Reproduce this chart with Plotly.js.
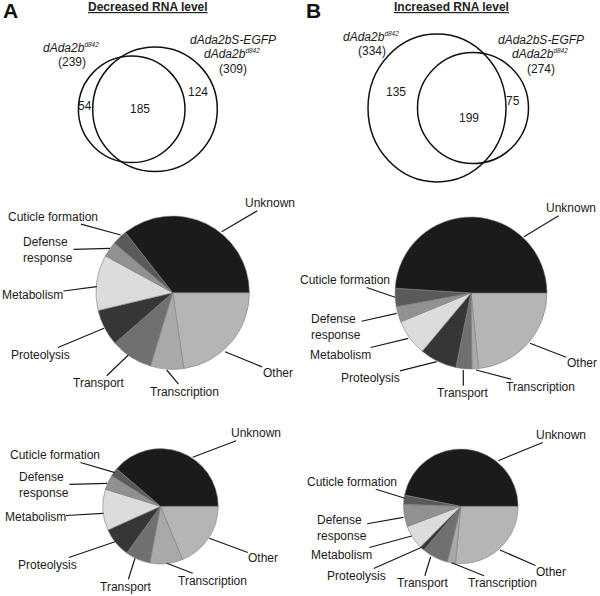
<!DOCTYPE html>
<html><head><meta charset="utf-8">
<script src="https://cdn.plot.ly/plotly-3.0.1.min.js"></script>
<style>html,body{margin:0;padding:0;background:#fff}#chart{width:600px;height:596px}</style>
</head><body><div id="chart"></div>
<script>
// ---------- data ----------
const categories = ['Other','Transcription','Transport','Proteolysis','Metabolism','Defense response','Cuticle formation','Unknown'];
const decreasedMutant = [22.7, 7.0, 8.9, 7.7, 11.7, 3.25, 3.2, 35.6];
const increasedMutant = [23.4, 1.4, 3.4, 7.9, 7.7, 3.3, 3.9, 49.0];
const decreasedShared = [18.75, 9.2, 7.0, 8.3, 11.5, 4.1, 2.4, 38.7];
const increasedShared = [26.5, 2.3, 7.4, 1.3, 6.8, 6.3, 2.6, 46.9];
// venn: left total, right total, left only, overlap, right only
const vennDecreased = [239, 309, 54, 185, 124];
const vennIncreased = [334, 274, 135, 199, 75];
const panelLetters = ['A', 'B'];
const panelTitles = ['Decreased RNA level', 'Increased RNA level'];
const geneName = 'dAda2b';
const rescueName = 'dAda2bS-EGFP';
const alleleName = 'd842';

// ---------- styles / layout positions ----------
const sliceColors = ['#b5b5b5','#a9a9a9','#707070','#363636','#dcdcdc','#919191','#5a5a5a','#1b1b1b'];
const FONT = 'Liberation Sans, Arial, sans-serif';
const TXT = '#1a1a1a';

const pieGeom = [
  {vals: decreasedMutant, cx: 172.7, cy: 292.7, r: 76.7},
  {vals: increasedMutant, cx: 471.0, cy: 293.0, r: 76.0},
  {vals: decreasedShared, cx: 160.5, cy: 506.3, r: 57.7},
  {vals: increasedShared, cx: 460.8, cy: 506.3, r: 57.3}
];
// label text centre (tx,ty) and leader tip (px,py), in category order
const labelPos = [
  [[277.5,373.3,225,351.7],[184.7,391.7,166.7,370],[99,383.3,128.3,355],[40,355,104,328.3],[32.5,295,96.7,286.7],[48,250,110,248.3],[53.3,216.7,120.7,235],[270,203.3,221.7,231.7]],
  [[581.7,363.3,530,343.3],[540,386.7,476,370],[463.3,393.3,463.3,370],[370,378.3,436.7,361.7],[340,355,408.3,338.3],[336,327,396.7,313.3],[345,280,395,297.3],[571,208.3,524,236.7]],
  [[263.3,558.3,209.3,538.3],[212.5,580.7,166.7,563.3],[126,586.7,135,558.3],[47,565,115,541.7],[35,517.3,103.3,513.3],[44,485,107.3,483.3],[55,455,115,472.7],[256,433.3,192.7,457.3]],
  [[551,572.3,500,550],[502.5,583.3,451.7,562.7],[422.5,583.3,430.7,556.7],[356.7,576,421.7,547.3],[341.7,555,411.7,536],[341.7,528.3,403.3,517.3],[351.7,481.7,405,498.3],[561,435,498.3,460.7]]
];

// venn ellipses: [x0, x1, y0, y1]
const vennGeom = [
  {counts: vennDecreased, left:[78.4,185,56,162.6], right:[92.7,217.3,46.9,171.5],
   leftLbl:[71,48], rightLbl:[233,40], nums:[[85,106],[140,109.3],[198.3,91.7]], letter:[10.5,10], title:[148,7]},
  {counts: vennIncreased, left:[368,506,34,182], right:[417.5,528.5,52.5,163.5],
   leftLbl:[371,37], rightLbl:[541,40], nums:[[395.5,92],[469,118.3],[513.3,101]], letter:[313.5,10], title:[451.7,7]}
];

const W = 600, H = 596;
const traces = [{type:'scatter', x:[], y:[], hoverinfo:'skip', showlegend:false}];
pieGeom.forEach(p => {
  traces.push({
    type:'pie', labels: categories, values: p.vals, sort:false, direction:'clockwise', rotation:90,
    textinfo:'none', hoverinfo:'skip', showlegend:false,
    marker:{colors: sliceColors, line:{color:'#808080', width:0.6}},
    domain:{x:[(p.cx-p.r)/W, (p.cx+p.r)/W], y:[(H-p.cy-p.r)/H, (H-p.cy+p.r)/H]}
  });
});

const annotations = [];
const shapes = [];
function txt(x, y, text, extra) {
  annotations.push(Object.assign({xref:'x', yref:'y', x, y, text, showarrow:false,
    xanchor:'center', yanchor:'middle', font:{family:FONT, size:12, color:TXT}}, extra||{}));
}
const sup = '<i>' + geneName + '<sup><span style="font-size:6.5px">' + alleleName + '</span></sup></i>';

vennGeom.forEach((v, i) => {
  [v.left, v.right].forEach(c => shapes.push({type:'circle', xref:'x', yref:'y',
    x0:c[0], x1:c[1], y0:c[2], y1:c[3], line:{color:'#111', width:1.5}}));
  txt(v.letter[0], v.letter[1], '<b>' + panelLetters[i] + '</b>', {font:{family:FONT, size:21, color:'#111'}});
  txt(v.title[0], v.title[1], '<b>' + panelTitles[i] + '</b>', {font:{family:FONT, size:12, color:'#222', lineposition:'under'}});
  txt(v.leftLbl[0], v.leftLbl[1], sup);
  txt(v.leftLbl[0] + 1, v.leftLbl[1] + 14, '(' + v.counts[0] + ')');
  txt(v.rightLbl[0], v.rightLbl[1], '<i>' + rescueName + '</i>');
  txt(v.rightLbl[0] - 1, v.rightLbl[1] + 13.5, sup);
  txt(v.rightLbl[0], v.rightLbl[1] + 28.5, '(' + v.counts[1] + ')');
  v.nums.forEach((n, k) => txt(n[0], n[1], String(v.counts[2 + k])));
});

labelPos.forEach(set => {
  set.forEach((lp, k) => {
    annotations.push({xref:'x', yref:'y', axref:'x', ayref:'y', x: lp[2], y: lp[3], ax: lp[0], ay: lp[1],
      text: categories[k].replace(' ', '<br>').replace('Cuticle<br>', 'Cuticle '),
      showarrow:true, arrowhead:0, arrowwidth:1.2, arrowcolor:'#1a1a1a', standoff:0, borderpad:0,
      font:{family:FONT, size:12, color:TXT}, align:'left'});
  });
});

const layout = {
  width: W, height: H, margin:{l:0, r:0, t:0, b:0}, showlegend:false,
  paper_bgcolor:'#fff', plot_bgcolor:'#fff',
  xaxis:{range:[0, W], visible:false, fixedrange:true},
  yaxis:{range:[H, 0], visible:false, fixedrange:true},
  shapes, annotations
};
Plotly.newPlot('chart', traces, layout, {staticPlot:true, displayModeBar:false});
</script></body></html>
